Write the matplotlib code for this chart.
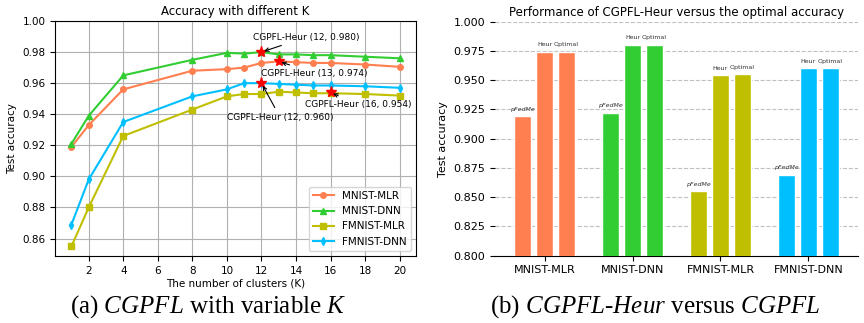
import numpy as np
import matplotlib.pyplot as plt

plt.rcParams['mathtext.fontset'] = 'custom'
plt.rcParams['mathtext.rm'] = 'Liberation Serif'
plt.rcParams['mathtext.it'] = 'Liberation Serif:italic'

# ---- data: accuracy vs number of clusters
K = [1, 2, 4, 8, 10, 11, 12, 13, 14, 15, 16, 18, 20]
mnist_mlr = [0.919, 0.933, 0.956, 0.968, 0.969, 0.970, 0.973, 0.974, 0.9735, 0.973, 0.973, 0.972, 0.9705]
mnist_dnn = [0.921, 0.939, 0.965, 0.975, 0.9795, 0.979, 0.980, 0.9785, 0.9785, 0.978, 0.978, 0.977, 0.976]
fmnist_mlr = [0.855, 0.880, 0.926, 0.943, 0.9515, 0.953, 0.953, 0.9545, 0.954, 0.9535, 0.9535, 0.953, 0.952]
fmnist_dnn = [0.869, 0.898, 0.935, 0.9515, 0.956, 0.960, 0.960, 0.9595, 0.959, 0.9585, 0.9585, 0.958, 0.957]

# best points found by CGPFL-Heur
heur_k = [12, 13, 12, 16]
heur_acc = [0.980, 0.974, 0.960, 0.954]
heur_text_pos = [(11.5, 0.9895), (12.0, 0.9665), (10.0, 0.938), (14.5, 0.9465)]

# ---- data: bar chart
datasets = ['MNIST-MLR', 'MNIST-DNN', 'FMNIST-MLR', 'FMNIST-DNN']
methods = ['pFedMe', 'Heur', 'Optimal']
bar_vals = [[0.919, 0.974, 0.974],
            [0.922, 0.980, 0.980],
            [0.855, 0.954, 0.955],
            [0.869, 0.960, 0.960]]
colors = ['#FF7F50', '#32CD32', '#BFBF00', '#00BFFF']

fig = plt.figure(figsize=(8.64, 3.23), dpi=100)

# %% ---- (a) line plot
ax1 = fig.add_axes([0.0637, 0.2074, 0.4178, 0.7276])
ax1.plot(K, mnist_mlr, color=colors[0], marker='o', ms=4, lw=1.5, label='MNIST-MLR')
ax1.plot(K, mnist_dnn, color=colors[1], marker='^', ms=4, lw=1.5, label='MNIST-DNN')
ax1.plot(K, fmnist_mlr, color=colors[2], marker='s', ms=4, lw=1.5, label='FMNIST-MLR')
ax1.plot(K, fmnist_dnn, color=colors[3], marker='d', ms=4, lw=1.5, label='FMNIST-DNN')
ax1.plot(heur_k, heur_acc, 'r*', ms=8, ls='none')
for k, a, pos in zip(heur_k, heur_acc, heur_text_pos):
    ax1.annotate('CGPFL-Heur (%d, %.3f)' % (k, a), xy=(k, a), xytext=pos,
                 fontsize=6.5, va='center', ha='left',
                 arrowprops=dict(arrowstyle='->', color='k', lw=0.8))
ax1.set_ylim(top=1.0)
ax1.set_xticks(range(2, 21, 2))
ax1.set_yticks(np.arange(0.86, 1.001, 0.02))
ax1.tick_params(labelsize=7.5)
ax1.grid(True, color='#b0b0b0', lw=0.8)
ax1.set_title('Accuracy with different K', fontsize=8.5, pad=4)
ax1.set_xlabel('The number of clusters (K)', fontsize=7.5, labelpad=2)
ax1.set_ylabel('Test accuracy', fontsize=7.5)
ax1.legend(loc='lower right', fontsize=7.5)

# %% ---- (b) bar chart
ax2 = fig.add_axes([0.573, 0.2083, 0.42, 0.7247])
x = np.arange(len(datasets))
step = 0.25
for i, vals in enumerate(bar_vals):
    for j, v in enumerate(vals):
        xpos = x[i] + (j - 1) * step
        ax2.bar(xpos, v, width=0.2, color=colors[i], edgecolor='white', lw=1.0, zorder=3)
        ax2.text(xpos, v + 0.004, methods[j], fontsize=4.5, ha='center', va='bottom',
                 color='#333333', style='italic' if j == 0 else 'normal')
ax2.set_xlim(-0.5625, 3.5625)
ax2.set_ylim(0.8, 1.0)
ax2.set_yticks(np.arange(0.8, 1.0001, 0.025))
ax2.set_xticks(x)
ax2.set_xticklabels(datasets)
ax2.tick_params(labelsize=8)
ax2.grid(True, axis='y', ls='--', color='#c0c0c0', lw=0.8, zorder=0)
for s in ['top', 'right', 'left']:
    ax2.spines[s].set_visible(False)
ax2.set_title('Performance of CGPFL-Heur versus the optimal accuracy', fontsize=8.5, pad=4)
ax2.set_ylabel('Test accuracy', fontsize=8)

# captions
fig.text(0.241, 0.008, r'(a) $\mathit{CGPFL}$ with variable $K$', fontsize=18,
         family='Liberation Serif', ha='center', va='bottom')
fig.text(0.758, 0.008, r'(b) $\mathit{CGPFL}$-$\mathit{Heur}$ versus $\mathit{CGPFL}$', fontsize=18,
         family='Liberation Serif', ha='center', va='bottom')

fig.savefig('out.png', dpi=100)
